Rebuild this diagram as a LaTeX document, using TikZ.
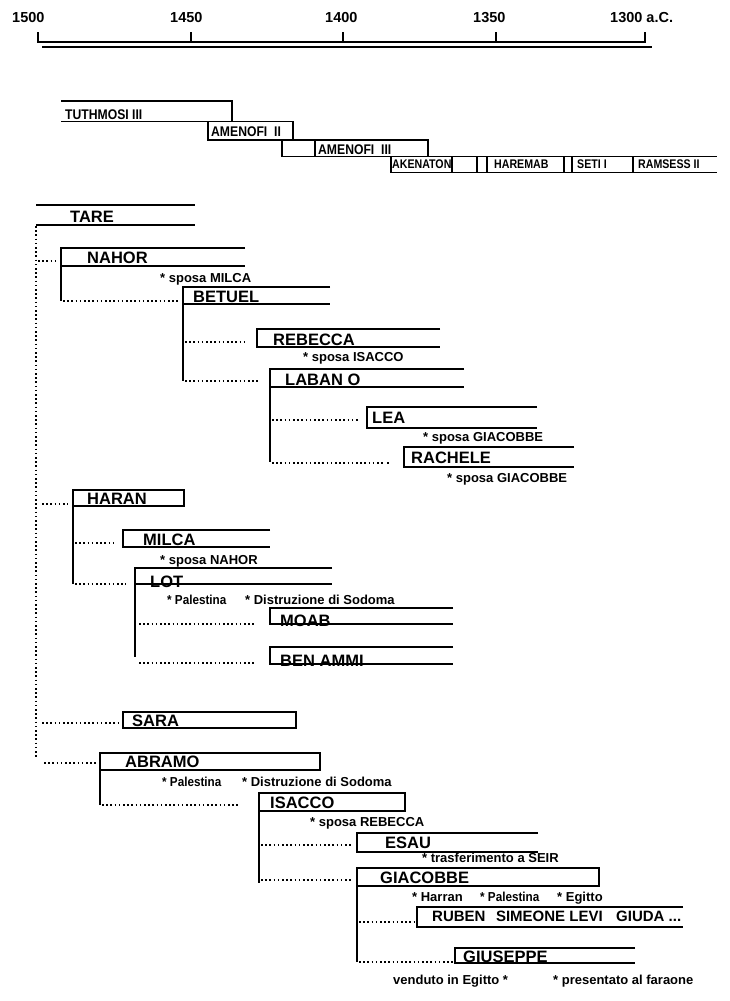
\documentclass[tikz,border=0pt]{standalone}
\usepackage{fontspec}
\setmainfont{Liberation Sans}
\newfontfamily\narrowf{Liberation Sans}[FakeStretch=0.87]
\newfontfamily\narrowg{Liberation Sans}[FakeStretch=0.85]
\newfontfamily\notef{Liberation Sans}[FakeStretch=0.9]
\begin{document}
\begin{tikzpicture}[x=1pt,y=-1pt,
  ln/.style={line width=1.8pt},
  dl/.style={line width=2pt, dash pattern=on 1.6pt off 2.6pt},
  ax/.style={font=\bfseries\fontsize{14.5}{16}\selectfont, anchor=base west, inner sep=0pt},
  ph/.style={font=\narrowf\bfseries\fontsize{14}{16}\selectfont, anchor=base west, inner sep=0pt},
  pr/.style={font=\narrowg\bfseries\fontsize{12.5}{14}\selectfont, anchor=base west, inner sep=0pt},
  nm/.style={font=\bfseries\fontsize{16.5}{18}\selectfont, anchor=base west, inner sep=0pt},
  nt/.style={font=\bfseries\fontsize{13}{15}\selectfont, anchor=base west, inner sep=0pt},
  ntn/.style={font=\notef\bfseries\fontsize{13}{15}\selectfont, anchor=base west, inner sep=0pt}]
\useasboundingbox (0,0) rectangle (730,1001);
% ---------- time axis ----------
\draw[ln] (38,32)--(38,42)--(645,42)--(645,32);
\foreach \x in {191,343,496} \draw[ln] (\x,32)--(\x,42);
\draw[ln] (42,47)--(652,47);
\node[ax] (y1500) at (12,23) {1500};
\node[ax] (y1450) at (170,23) {1450};
\node[ax] (y1400) at (325,23) {1400};
\node[ax] (y1350) at (473,23) {1350};
\node[ax] (y1300) at (610,23) {1300 a.C.};
% ---------- pharaohs ----------
\draw[ln] (61,101)--(232,101)--(232,121.5);
\draw[ln] (61,121.5)--(208,121.5);
\draw[ln] (208,121.5) rectangle (293,140);
\draw[ln] (282,140)--(282,156.5);
\draw[ln] (315,140)--(315,156.5);
\draw[ln] (282,140)--(428,140)--(428,156.5);
\draw[ln] (282,156.5)--(717,156.5);
\draw[ln] (391,156.5)--(391,172.5)--(717,172.5);
\foreach \x in {452,477,487,564,572,633} \draw[ln] (\x,156.5)--(\x,172.5);
\node[ph] (tuth) at (65,119) {TUTHMOSI III};
\node[ph] (amen2) at (211,136.5) {AMENOFI\ \ II};
\node[ph] (amen3) at (318,154.5) {AMENOFI\ \ III};
\node[pr] (aken) at (392,168.5) {AKENATON};
\node[pr] (hare) at (494,168.5) {HAREMAB};
\node[pr] (seti) at (577,168.5) {SETI I};
\node[pr] (rams) at (638,168.5) {RAMSESS II};
% ---------- TARE ----------
\draw[ln] (36,205)--(195,205);
\draw[ln] (36,225)--(195,225);
\node[nm] (tare) at (70,222) {TARE};
\draw[dl] (36,226)--(36,757);
% ---------- NAHOR ----------
\draw[dl] (38,261)--(58,261);
\draw[ln] (245,248)--(61,248)--(61,301);
\draw[ln] (61,266)--(245,266);
\node[nm] (nahor) at (87,263) {NAHOR};
\node[nt] (nahorn) at (160,282.5) {* sposa MILCA};
\draw[dl] (63,301)--(179,301);
% ---------- BETUEL ----------
\draw[ln] (330,287)--(183,287)--(183,381);
\draw[ln] (183,304)--(330,304);
\node[nm] (betuel) at (193,302.5) {BETUEL};
\draw[dl] (185,342)--(244,342);
\draw[dl] (185,381)--(260,381);
% ---------- REBECCA ----------
\draw[ln] (440,329)--(257,329)--(257,347)--(440,347);
\node[nm] (rebecca) at (273,345) {REBECCA};
\node[nt] (rebeccan) at (303,361.5) {* sposa ISACCO};
% ---------- LABAN ----------
\draw[ln] (464,369)--(270,369)--(270,462);
\draw[ln] (270,387)--(464,387);
\node[nm] (laban) at (285,385) {LABAN O};
\draw[dl] (272,420)--(358,420);
\draw[dl] (272,463)--(384,463);
\draw[dl] (387,463)--(389,463);
% ---------- LEA ----------
\draw[ln] (537,407)--(367,407)--(367,428)--(537,428);
\node[nm] (lea) at (372,423.5) {LEA};
\node[nt] (lean) at (423,441.5) {* sposa GIACOBBE};
% ---------- RACHELE ----------
\draw[ln] (574,447)--(404,447)--(404,467)--(574,467);
\node[nm] (rachele) at (411,463) {RACHELE};
\node[nt] (racheln) at (447,482.5) {* sposa GIACOBBE};
% ---------- HARAN ----------
\draw[dl] (42,504)--(68,504);
\draw[ln] (73,584)--(73,490)--(184,490)--(184,506)--(73,506);
\node[nm] (haran) at (87,504.5) {HARAN};
\draw[dl] (75,543)--(113,543);
\draw[dl] (75,584)--(126,584);
% ---------- MILCA ----------
\draw[ln] (270,530)--(123,530)--(123,547)--(270,547);
\node[nm] (milca) at (143,545) {MILCA};
\node[nt] (milcan) at (160,564.5) {* sposa NAHOR};
% ---------- LOT ----------
\draw[ln] (332,568)--(135,568)--(135,657);
\draw[ln] (135,584)--(332,584);
\node[nm] (lot) at (150,587) {LOT};
\node[ntn] (lotp) at (167,604.5) {* Palestina};
\node[nt] (lotd) at (245,604.5) {* Distruzione di Sodoma};
\draw[dl] (139,624)--(256,624);
\draw[dl] (139,663)--(256,663);
% ---------- MOAB / BEN AMMI ----------
\draw[ln] (453,608)--(270,608)--(270,624)--(453,624);
\node[nm] (moab) at (280,626) {MOAB};
\draw[ln] (453,647)--(270,647)--(270,664)--(453,664);
\node[nm] (benammi) at (280,666) {BEN AMMI};
% ---------- SARA ----------
\draw[dl] (42,723)--(118,723);
\draw[ln] (123,712) rectangle (296,728);
\node[nm] (sara) at (132,726.5) {SARA};
% ---------- ABRAMO ----------
\draw[dl] (44,763)--(96,763);
\draw[ln] (100,805)--(100,753)--(320,753)--(320,770)--(100,770);
\node[nm] (abramo) at (125,767) {ABRAMO};
\node[ntn] (abrp) at (162,786.5) {* Palestina};
\node[nt] (abrd) at (242,786.5) {* Distruzione di Sodoma};
\draw[dl] (102,805)--(239,805);
% ---------- ISACCO ----------
\draw[ln] (259,793) rectangle (405,811);
\draw[ln] (259,811)--(259,883);
\node[nm] (isacco) at (270,808.5) {ISACCO};
\node[nt] (isaccon) at (310,826.5) {* sposa REBECCA};
\draw[dl] (261,845)--(351,845);
\draw[dl] (261,880)--(351,880);
% ---------- ESAU ----------
\draw[ln] (538,833)--(357,833)--(357,852)--(538,852);
\node[nm] (esau) at (385,848.5) {ESAU};
\node[nt] (esaun) at (422,862.5) {* trasferimento a SEIR};
% ---------- GIACOBBE ----------
\draw[ln] (357,962)--(357,868)--(599,868)--(599,886)--(357,886);
\node[nm] (giacobbe) at (380,883) {GIACOBBE};
\node[nt] (giah) at (412,901.5) {* Harran};
\node[ntn] (giap) at (480,901.5) {* Palestina};
\node[nt] (giae) at (557,901.5) {* Egitto};
\draw[dl] (359,922)--(416,922);
\draw[dl] (359,962)--(453,962);
% ---------- sons ----------
\draw[ln] (683,907)--(417,907)--(417,927)--(683,927);
\node[nm, font=\bfseries\fontsize{15}{17}\selectfont] (sons) at (432,921.5) {RUBEN\hspace{0.7em}SIMEONE LEVI\hspace{0.9em}GIUDA ...};
% ---------- GIUSEPPE ----------
\draw[ln] (635,948)--(455,948)--(455,963)--(635,963);
\node[nm] (giuseppe) at (463,962) {GIUSEPPE};
\node[nt] (giuv) at (393,984.5) {venduto in Egitto *};
\node[nt] (giuf) at (553,984.5) {* presentato al faraone};
\end{tikzpicture}
\end{document}
